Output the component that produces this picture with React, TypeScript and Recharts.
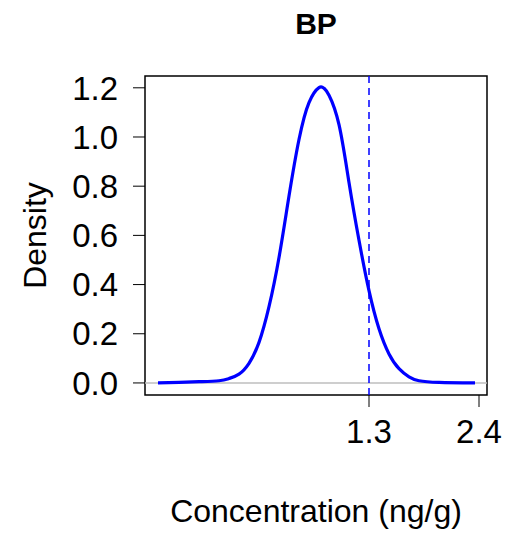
import React from 'react';
import { LineChart, Line, XAxis, YAxis, ReferenceLine, ReferenceArea, Label } from 'recharts';

const concentration = [-0.81, -0.6, -0.4, -0.2, -0.1, 0.0, 0.1, 0.2, 0.3, 0.4, 0.5, 0.6, 0.7, 0.8, 0.85, 0.9, 1.0, 1.1, 1.2, 1.3, 1.4, 1.5, 1.6, 1.7, 1.8, 2.0, 2.36];
const density = [0, 0.002, 0.005, 0.009, 0.018, 0.036, 0.08, 0.165, 0.31, 0.51, 0.76, 0.99, 1.14, 1.201, 1.198, 1.17, 1.05, 0.815, 0.58, 0.375, 0.22, 0.118, 0.058, 0.025, 0.009, 0.002, 0];
const xTicks = [1.3, 2.4];
const yTicks = [0, 0.2, 0.4, 0.6, 0.8, 1.0, 1.2];
const xDomain = [-0.94, 2.48];
const yDomain = [-0.049, 1.248];
const threshold = 1.3;
const title = 'BP';
const xLabel = 'Concentration (ng/g)';
const yLabel = 'Density';

const data = concentration.map((x, i) => ({ x, y: density[i] }));

const FONT = '"Liberation Sans", Arial, sans-serif';

export default function App() {
  return (
    <div style={{ position: 'absolute', left: 0, top: 0, background: '#fff' }}>
      <LineChart width={510} height={535} data={data} margin={{ top: 76, right: 23, left: 25, bottom: 0 }}>
        <XAxis
          dataKey="x"
          type="number"
          domain={xDomain}
          ticks={xTicks}
          allowDataOverflow
          tickSize={12}
          tickMargin={13}
          axisLine={false}
          tickLine={{ stroke: '#000', strokeWidth: 1 }}
          tick={{ fill: '#000', fontSize: 33, fontFamily: FONT }}
          tickFormatter={(v: number) => v.toFixed(1)}
          height={140}
          interval={0}
        >
          <Label
            content={({ viewBox }: any) => (
              <text x={viewBox.x + viewBox.width / 2} y={viewBox.y + 127} textAnchor="middle" fontSize={32} fontFamily={FONT} fill="#000">
                {xLabel}
              </text>
            )}
          />
        </XAxis>
        <YAxis
          type="number"
          domain={yDomain}
          ticks={yTicks}
          allowDataOverflow
          tickSize={12}
          tickMargin={15}
          axisLine={false}
          tickLine={{ stroke: '#000', strokeWidth: 1 }}
          tick={{ fill: '#000', fontSize: 33, fontFamily: FONT }}
          tickFormatter={(v: number) => v.toFixed(1)}
          width={120}
          interval={0}
        >
          <Label
            content={({ viewBox }: any) => {
              const cx = viewBox.x + 10;
              const cy = viewBox.y + viewBox.height / 2;
              return (
                <text x={cx} y={cy} transform={`rotate(-90 ${cx} ${cy})`} textAnchor="middle" dominantBaseline="central" fontSize={32} fontFamily={FONT} fill="#000">
                  {yLabel}
                </text>
              );
            }}
          />
        </YAxis>
        <ReferenceLine y={0} stroke="#bebebe" strokeWidth={1.5} ifOverflow="visible" />
        <ReferenceLine x={threshold} stroke="#0000ff" strokeWidth={1.5} strokeDasharray="7 5" ifOverflow="visible" />
        <Line
          type="natural"
          dataKey="y"
          stroke="#0000ff"
          strokeWidth={3.2}
          dot={false}
          isAnimationActive={false}
        />
        <ReferenceArea
          x1={xDomain[0]}
          x2={xDomain[1]}
          y1={yDomain[0]}
          y2={yDomain[1]}
          fill="none"
          stroke="#000"
          strokeWidth={1.5}
          ifOverflow="visible"
        >
          <Label
            content={({ viewBox }: any) => (
              <text x={viewBox.x + viewBox.width / 2} y={viewBox.y - 42} textAnchor="middle" fontSize={30} fontWeight="bold" fontFamily={FONT} fill="#000">
                {title}
              </text>
            )}
          />
        </ReferenceArea>
      </LineChart>
    </div>
  );
}
